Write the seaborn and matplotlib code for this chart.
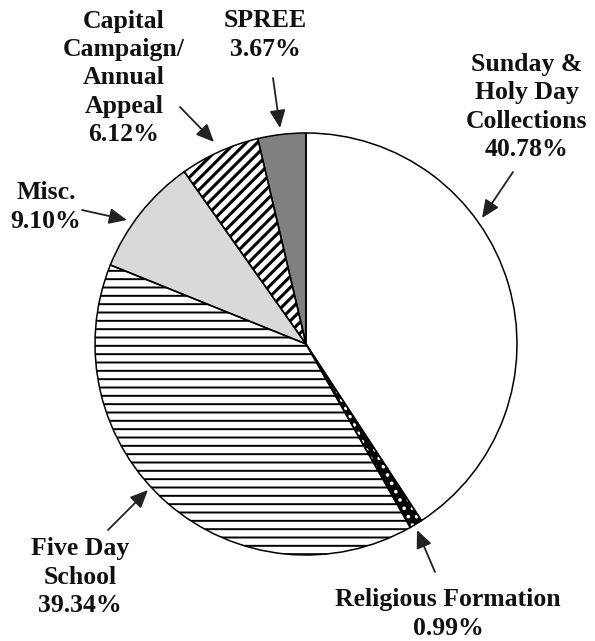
import matplotlib
matplotlib.use("Agg")
import matplotlib.pyplot as plt
import seaborn as sns

# slice data, clockwise from 12 o'clock
labels = ["Sunday &\nHoly Day\nCollections", "Religious Formation", "Five Day\nSchool",
          "Misc.", "Capital\nCampaign/\nAnnual\nAppeal", "SPREE"]
shares = [40.78, 0.99, 39.34, 9.10, 6.12, 3.67]
fills = ["white", "black", "white", "#d9d9d9", "white", "#808080"]
hatches = [None, "..", "--", None, "///", None]
hatch_colors = ["black", "white", "black", "black", "black", "black"]

# label layout in image pixels: text centre, arrow start, arrow tip
text_px = [(527, 107), (448, 614), (80, 577), (46, 207), (124, 78), (265, 35)]
tail_px = [(513, 172), (435, 572), (108, 530), (82, 210), (180, 107), (273, 78)]
tip_px = [(482, 218), (417, 530), (148, 490), (127, 220), (214, 142), (280, 128)]

W, H = 595, 641
CX, CY, R = 306, 344, 211


def to_data(p):
    return ((p[0] - CX) / R, (CY - p[1]) / R)


sns.set_theme(style="white")
plt.rcParams["font.family"] = ["Liberation Serif", "DejaVu Serif"]
plt.rcParams["hatch.linewidth"] = 1.6

fig = plt.figure(figsize=(W / 100, H / 100), dpi=100)
ax = fig.add_axes([0, 0, 1, 1])

wedges, _ = ax.pie(shares, colors=fills, startangle=90, counterclock=False, radius=1,
                   wedgeprops=dict(linewidth=0))
for w, h, hc in zip(wedges, hatches, hatch_colors):
    if h:
        w.set_edgecolor(hc)
        w.set_hatch(h)
        if hasattr(w, "set_hatch_linewidth"):
            w.set_hatch_linewidth(2.2 if "/" in h else 1.4)
    w.set_linewidth(0)

# black outlines on top
ax.pie(shares, startangle=90, counterclock=False, radius=1,
       wedgeprops=dict(fill=False, edgecolor="black", linewidth=1.1))

for lab, val, t, s, e in zip(labels, shares, text_px, tail_px, tip_px):
    ax.text(*to_data(t), f"{lab}\n{val:.2f}%", ha="center", va="center",
            fontsize=18.5, fontweight="bold", linespacing=1.28, color="#111111")
    ax.annotate("", xy=to_data(e), xytext=to_data(s),
                arrowprops=dict(arrowstyle="-|>,head_length=0.9,head_width=0.4",
                                color="#222222", lw=1.3, shrinkA=0, shrinkB=0))

ax.set_xlim(-CX / R, (W - CX) / R)
ax.set_ylim(-(H - CY) / R, CY / R)
ax.set_aspect("equal")
ax.axis("off")

fig.savefig("out.png", dpi=100)
plt.close(fig)
